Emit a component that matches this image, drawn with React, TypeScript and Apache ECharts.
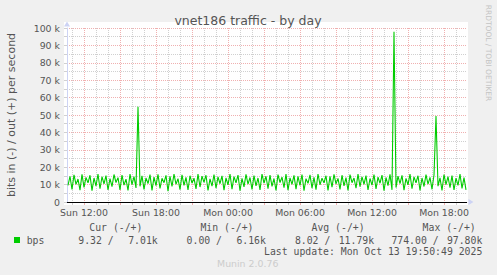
import React, { useEffect, useRef } from 'react';
import * as echarts from 'echarts';

// time in hours counted from Sun 00:00
const axisMinHour = 10 + 35 / 60; // Sun 10:35
const axisMaxHour = 43 + 55 / 60; // Mon 19:55
const startHour = 10 + 40 / 60; // first sample Sun 10:40
const stepHours = 10 / 60; // 10 minute samples

const labelHours = [12, 18, 24, 30, 36, 42];
const labelTexts = ['Sun 12:00', 'Sun 18:00', 'Mon 00:00', 'Mon 06:00', 'Mon 12:00', 'Mon 18:00'];
const majorGridHours = [12, 15, 18, 21, 24, 27, 30, 33, 36, 39, 42];
const minorGridHours = [11, 13, 14, 16, 17, 19, 20, 22, 23, 25, 26, 28, 29, 31, 32, 34, 35, 37, 38, 40, 41, 43];

// out traffic, kbit/s
const outKbps = [
  9.5, 14.8, 7.2, 15.6, 10.1, 13.2, 6.8, 15.9, 8.4, 14.1, 11.0, 15.4, 6.5, 13.8, 9.2, 16.0, 7.6, 14.5, 10.4, 15.2,
  6.9, 13.5, 8.8, 15.8, 11.2, 14.0, 7.0, 15.5, 9.7, 13.1, 6.6, 16.1, 10.0, 14.6, 8.1, 54.8, 9.0, 15.0, 7.3, 13.9,
  10.6, 15.7, 6.7, 14.3, 9.4, 15.9, 7.8, 13.6, 11.1, 15.3, 6.2, 14.7, 8.9, 16.0, 10.2, 13.4, 7.1, 15.6, 9.6, 14.2,
  6.9, 15.1, 10.8, 13.7, 7.5, 16.0, 8.6, 14.9, 11.3, 15.4, 6.6, 13.3, 9.1, 15.8, 7.9, 14.4, 10.5, 15.0, 6.8, 13.9,
  9.8, 16.1, 7.4, 14.6, 11.0, 15.5, 6.5, 13.6, 8.7, 15.9, 10.3, 14.1, 7.2, 15.2, 9.3, 13.8, 6.9, 16.0, 10.9, 14.8,
  7.7, 15.4, 9.0, 13.5, 6.6, 15.7, 11.2, 14.3, 8.2, 16.0, 6.8, 13.9, 10.1, 15.3, 7.4, 14.7, 9.5, 15.8, 6.5, 13.4,
  10.7, 15.6, 8.0, 14.2, 7.1, 16.1, 9.9, 13.7, 11.0, 15.1, 6.7, 14.8, 8.5, 15.9, 10.4, 13.6, 7.3, 15.4, 9.2, 14.0,
  6.6, 15.7, 11.1, 13.8, 7.9, 16.0, 8.8, 14.5, 10.2, 15.2, 6.9, 13.5, 9.7, 15.8, 7.5, 14.3, 10.8, 15.5, 6.5, 14.1,
  9.4, 15.9, 7.0, 97.8, 8.3, 14.9, 10.6, 15.3, 6.8, 13.6, 9.9, 16.0, 7.6, 14.4, 11.0, 15.1, 6.7, 13.8, 8.9, 15.7,
  10.3, 14.2, 7.3, 15.5, 49.4, 9.1, 13.9, 6.6, 15.8, 10.0, 14.6, 8.2, 15.2, 6.9, 13.7, 9.6, 16.0, 7.8, 14.0, 7.01,
];

const legendHeaders = ['Cur (-/+)', 'Min (-/+)', 'Avg (-/+)', 'Max (-/+)'];
const legendIn = ['9.32', '0.00', '8.02', '774.00'];
const legendOut = ['7.01k', '6.16k', '11.79k', '97.80k'];

const SANS = 'DejaVu Sans';
const MONO = 'DejaVu Sans Mono';
const TEXT = '#555';
const AXIS = '#cdd3f4';
const GRID_MINOR = 'rgba(143,143,143,0.42)';
const GRID_MAJOR = 'rgba(222,79,79,0.45)';
const GREEN = '#00cc00';

function txt(text: string, x: number, y: number, opts: any = {}) {
  return {
    type: 'text',
    x,
    y,
    rotation: opts.rotation || 0,
    silent: true,
    style: {
      text,
      fill: opts.color || TEXT,
      fontSize: opts.size || 9.8,
      fontFamily: opts.family || MONO,
      align: opts.align || 'left',
      textAlign: opts.align || 'left',
      verticalAlign: 'middle',
      textVerticalAlign: 'middle',
    },
  };
}

export default function App() {
  const ref = useRef<HTMLDivElement>(null);
  useEffect(() => {
    if (!ref.current) return;
    const chart = echarts.init(ref.current, null, { renderer: 'svg' });

    const legendGraphics: any[] = [];
    legendHeaders.forEach((h, k) => legendGraphics.push(txt(h, 89.3 + k * 111.1, 227)));
    legendIn.forEach((v, k) => legendGraphics.push(txt(v + ' /', 113.7 + k * 108.3, 240, { align: 'right' })));
    legendOut.forEach((v, k) => legendGraphics.push(txt(v, 157.7 + k * 108.2, 240, { align: 'right' })));

    const option: any = {
      animation: false,
      backgroundColor: '#f0f0f0',
      grid: { left: 67, top: 28, width: 400, height: 174, containLabel: false, show: false },
      xAxis: [
        {
          type: 'value',
          position: 'bottom',
          min: axisMinHour,
          max: axisMaxHour,
          axisLine: { show: false },
          axisTick: { show: true, customValues: minorGridHours, length: 3, lineStyle: { color: GRID_MINOR } },
          axisLabel: { show: false },
          splitLine: { show: true, lineStyle: { color: GRID_MINOR, width: 1, type: [1, 1] } },
        },
        {
          type: 'value',
          position: 'bottom',
          min: axisMinHour,
          max: axisMaxHour,
          axisLine: {
            show: true,
            onZero: false,
            symbol: ['none', 'triangle'],
            symbolSize: [6, 5],
            symbolOffset: [0, 4],
            lineStyle: { color: AXIS, width: 1 },
          },
          axisTick: { show: true, customValues: majorGridHours, length: 3, lineStyle: { color: GRID_MAJOR } },
          axisLabel: {
            show: true,
            customValues: labelHours,
            margin: 6,
            color: TEXT,
            fontSize: 9.4,
            fontFamily: SANS,
            formatter: (v: number) => {
              const i = labelHours.indexOf(Math.round(v));
              return i >= 0 ? labelTexts[i] : '';
            },
          },
          splitLine: { show: true, lineStyle: { color: GRID_MAJOR, width: 1, type: [1, 1] } },
        },
      ],
      yAxis: {
        type: 'value',
        min: 0,
        max: 100000,
        interval: 5000,
        axisLine: {
          show: true,
          onZero: false,
          symbol: ['none', 'triangle'],
          symbolSize: [6, 5],
          symbolOffset: [0, 4],
          lineStyle: { color: AXIS, width: 1 },
        },
        axisTick: { show: true, length: 3, lineStyle: { color: GRID_MINOR } },
        axisLabel: {
          margin: 7,
          color: TEXT,
          fontSize: 9.4,
          fontFamily: SANS,
          formatter: (v: number) => (v % 10000 === 0 ? (v === 0 ? '0' : v / 1000 + ' k') : ''),
        },
        splitLine: { show: true, lineStyle: { color: [GRID_MAJOR, GRID_MINOR], width: 1, type: [1, 1] } },
      },
      series: [
        {
          name: 'bps',
          type: 'line',
          xAxisIndex: 1,
          yAxisIndex: 0,
          symbol: 'none',
          showSymbol: false,
          lineStyle: { color: GREEN, width: 1.1 },
          data: outKbps.map((v, i) => [startHour + i * stepHours, v * 1000]),
          markLine: {
            silent: true,
            symbol: 'none',
            label: { show: false },
            lineStyle: { color: '#000', width: 1, type: 'solid' },
            data: [{ yAxis: 0 }],
          },
        },
      ],
      graphic: [
        { type: 'rect', z: -10, silent: true, shape: { x: 64, y: 22, width: 404, height: 183 }, style: { fill: '#fff' } },
        txt('vnet186 traffic - by day', 248, 20, { family: SANS, size: 12.5, align: 'center' }),
        txt('bits in (-) / out (+) per second', 11, 115, { family: SANS, size: 11, align: 'center', rotation: Math.PI / 2 }),
        txt('RRDTOOL / TOBI OETIKER', 488, 53, { family: SANS, size: 7.5, align: 'center', rotation: -Math.PI / 2, color: '#c4c4c4' }),
        { type: 'rect', silent: true, shape: { x: 14, y: 237, width: 6, height: 6 }, style: { fill: GREEN } },
        txt('bps', 26.7, 240),
        ...legendGraphics,
        txt('Last update: Mon Oct 13 19:50:49 2025', 482.3, 251.5, { align: 'right' }),
        txt('Munin 2.0.76', 247.7, 263, { color: '#cccccc', size: 9.4, family: SANS, align: 'center' }),
      ],
    };
    chart.setOption(option);
    return () => chart.dispose();
  }, []);
  return <div ref={ref} style={{ position: 'absolute', left: 0, top: 0, width: 497, height: 275 }} />;
}
